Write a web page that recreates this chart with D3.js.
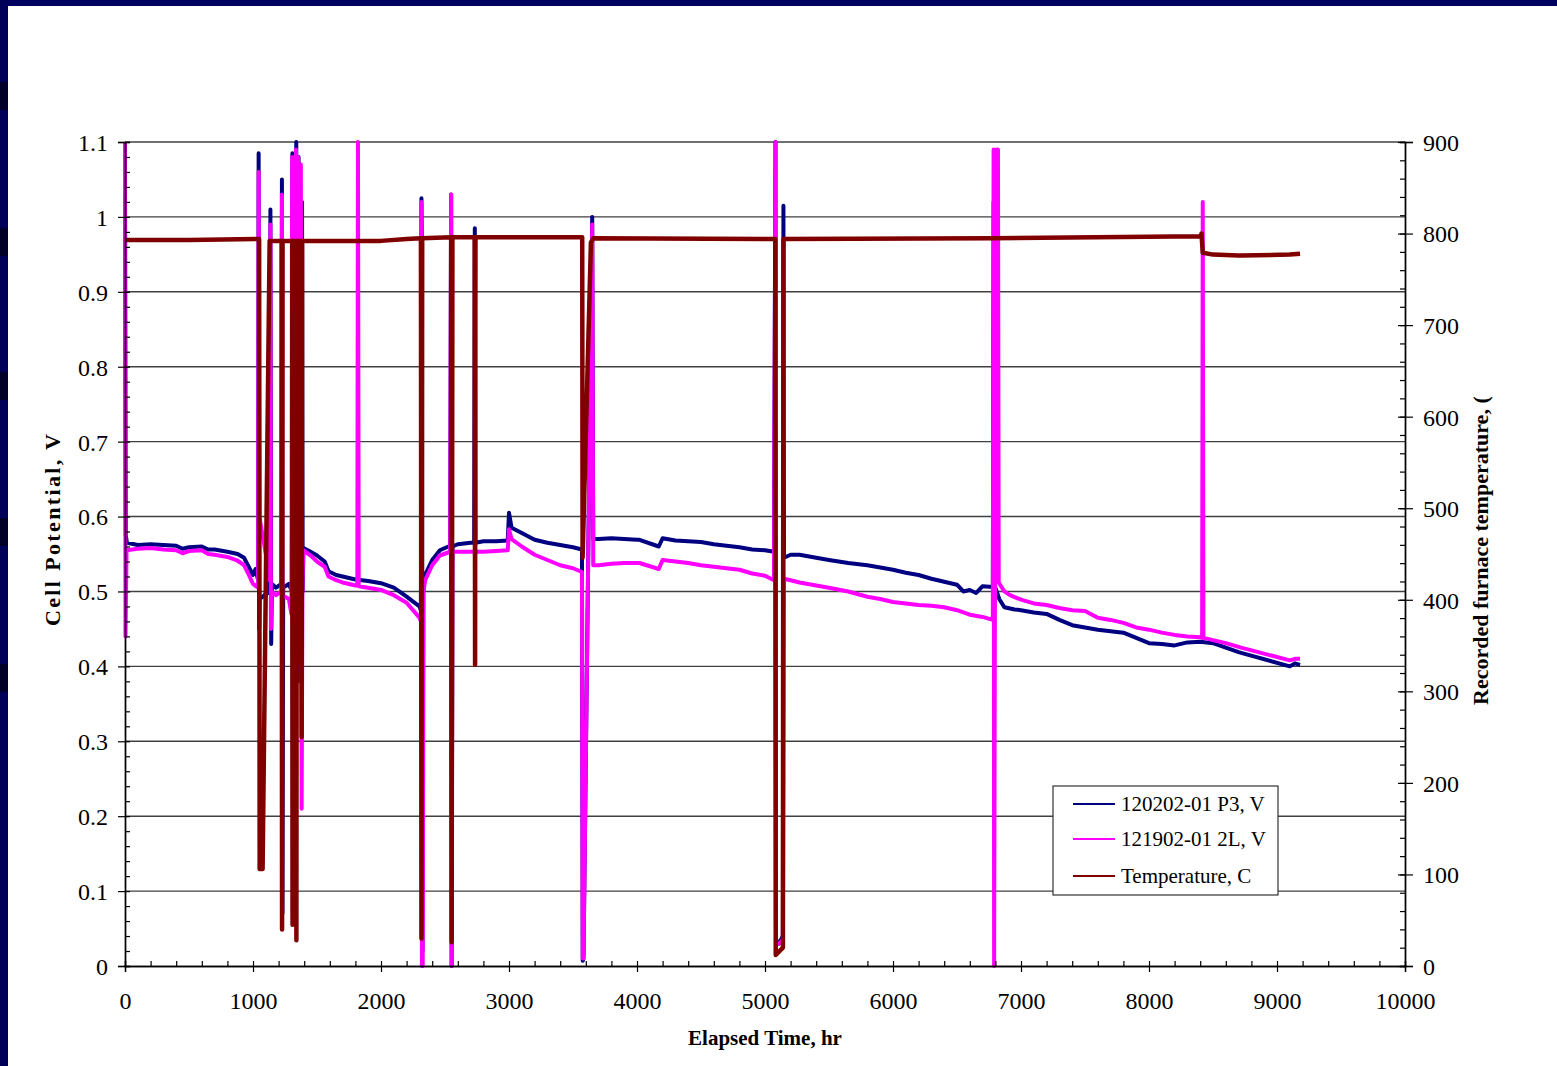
<!DOCTYPE html>
<html>
<head>
<meta charset="utf-8">
<script src="https://cdn.jsdelivr.net/npm/d3@7"></script>
<style>
  body { margin: 0; background: #fff; }
  svg { display: block; }
  text { font-family: "Liberation Serif", "Times New Roman", serif; fill: #000; }
</style>
</head>
<body>
<svg id="chart" width="1557" height="1066"></svg>
<script>
// hours, volts  (120202-01 P3)
const p3 = [
  [0,1.03],[6,0.575],[15,0.565],[100,0.562],[200,0.563],[300,0.562],[400,0.561],[450,0.557],[500,0.559],
  [600,0.56],[650,0.556],[700,0.556],[800,0.553],[880,0.55],[930,0.545],[960,0.535],[1000,0.522],[1020,0.53],[1040,0.515],
  [1044,1.085],[1048,0.45],[1052,0.49],[1130,0.5],[1136,1.01],[1142,0.43],[1148,0.51],[1180,0.505],[1222,0.51],
  [1226,1.05],[1230,0.07],[1236,0.505],[1280,0.51],[1304,0.5],[1308,1.085],[1312,0.065],[1318,0.5],[1334,0.51],
  [1338,1.1],[1342,0.5],[1350,0.49],[1356,1.08],[1360,0.38],[1366,0.5],[1378,0.51],[1383,1.02],[1388,0.5],[1394,0.558],
  [1450,0.553],[1500,0.548],[1560,0.54],[1590,0.527],[1650,0.522],[1700,0.52],[1800,0.516],[1900,0.514],[2000,0.511],
  [2100,0.505],[2200,0.493],[2300,0.48],[2312,0.475],[2316,1.025],[2320,0.95],[2324,0.02],[2330,0.5],[2345,0.522],
  [2400,0.542],[2460,0.555],[2540,0.561],[2548,1.03],[2552,0.0],[2558,0.56],[2600,0.563],[2700,0.565],[2728,0.565],
  [2733,0.985],[2738,0.565],[2800,0.567],[2900,0.567],[2990,0.568],[3000,0.605],[3020,0.585],[3100,0.578],[3200,0.569],
  [3300,0.565],[3400,0.562],[3500,0.559],[3570,0.556],[3576,0.007],[3582,0.01],[3650,1.0],[3658,0.57],[3700,0.57],
  [3800,0.571],[3900,0.57],[4000,0.569],[4020,0.569],[4170,0.56],[4200,0.571],[4300,0.568],[4400,0.567],[4500,0.566],
  [4600,0.563],[4700,0.561],[4800,0.559],[4900,0.556],[5000,0.555],[5070,0.553],[5082,1.1],[5086,0.035],[5110,0.03],
  [5140,0.04],[5144,1.015],[5148,0.545],[5200,0.549],[5270,0.549],[5400,0.545],[5500,0.542],[5650,0.538],[5800,0.535],
  [5900,0.532],[6000,0.529],[6100,0.525],[6200,0.522],[6300,0.517],[6400,0.513],[6500,0.509],[6550,0.5],[6600,0.502],
  [6650,0.498],[6700,0.507],[6780,0.506],[6786,1.02],[6790,0.5],[6800,0.505],[6830,0.49],[6870,0.479],[6950,0.476],
  [7000,0.475],[7100,0.472],[7200,0.47],[7300,0.462],[7400,0.455],[7500,0.452],[7600,0.449],[7700,0.447],[7800,0.445],
  [7900,0.438],[8000,0.431],[8100,0.43],[8200,0.428],[8300,0.432],[8400,0.433],[8500,0.431],[8600,0.425],[8700,0.419],
  [8720,0.418],[9100,0.4],[9140,0.404],[9180,0.402]
];

// hours, volts  (121902-01 2L)
const l2 = [
  [0,1.1],[4,0.44],[12,0.555],[100,0.557],[200,0.558],[300,0.556],[400,0.555],[450,0.551],[500,0.554],[600,0.555],
  [650,0.55],[700,0.549],[800,0.546],[880,0.541],[930,0.535],[960,0.525],[1000,0.51],[1040,0.505],[1044,1.06],
  [1050,0.6],[1120,0.53],[1130,0.515],[1136,0.99],[1140,0.45],[1146,0.5],[1180,0.495],[1222,0.5],[1226,1.03],
  [1230,0.495],[1280,0.49],[1300,0.47],[1306,1.08],[1312,0.47],[1330,0.46],[1336,1.09],[1342,0.47],[1352,1.08],
  [1358,0.48],[1368,0.5],[1374,1.07],[1380,0.21],[1386,0.5],[1392,0.555],[1450,0.548],[1500,0.54],[1560,0.533],
  [1590,0.52],[1650,0.515],[1700,0.512],[1800,0.508],[1815,0.508],[1820,1.1],[1826,0.507],[1900,0.505],[2000,0.502],
  [2100,0.495],[2200,0.485],[2300,0.465],[2312,0.46],[2316,1.02],[2320,0.0],[2326,0.0],[2332,0.5],[2345,0.515],
  [2400,0.535],[2460,0.548],[2540,0.553],[2548,1.03],[2552,0.0],[2558,0.553],[2600,0.553],[2700,0.553],[2800,0.553],
  [2900,0.554],[2990,0.555],[3000,0.583],[3020,0.57],[3100,0.56],[3200,0.549],[3300,0.542],[3400,0.535],[3500,0.531],
  [3570,0.526],[3576,0.01],[3582,0.01],[3650,0.99],[3658,0.535],[3700,0.535],[3800,0.537],[3900,0.538],[4000,0.538],
  [4020,0.538],[4170,0.53],[4200,0.542],[4300,0.54],[4400,0.538],[4500,0.535],[4600,0.533],[4700,0.531],[4800,0.529],
  [4900,0.524],[5000,0.521],[5070,0.515],[5082,1.1],[5086,0.03],[5110,0.03],[5140,0.035],[5148,0.517],[5200,0.515],
  [5270,0.512],[5400,0.508],[5500,0.505],[5650,0.5],[5800,0.493],[5900,0.49],[6000,0.486],[6100,0.484],[6200,0.482],
  [6300,0.481],[6400,0.479],[6500,0.475],[6600,0.469],[6700,0.466],[6780,0.462],[6786,1.09],[6790,0.0],[6796,0.46],
  [6810,1.09],[6820,1.09],[6826,0.512],[6870,0.5],[6914,0.495],[7000,0.489],[7100,0.484],[7200,0.482],[7300,0.478],
  [7400,0.475],[7500,0.474],[7600,0.465],[7700,0.462],[7800,0.458],[7900,0.452],[8000,0.449],[8100,0.445],[8200,0.442],
  [8300,0.44],[8400,0.439],[8415,0.438],[8420,1.02],[8425,0.438],[8500,0.435],[8600,0.431],[8700,0.426],[8720,0.425],
  [9100,0.408],[9140,0.41],[9180,0.41]
];

// hours, deg C
const temp = [
  [0,793],[500,793],[1040,794],[1048,794],[1052,106],[1075,106],[1130,792],[1224,792],[1227,40],[1231,792],
  [1306,792],[1309,45],[1313,792],[1336,792],[1339,28],[1343,792],[1356,792],[1359,330],[1363,792],[1376,792],
  [1380,250],[1384,792],[2000,792],[2200,794],[2312,795],[2316,30],[2322,795],[2548,796],[2552,26],[2558,796],
  [2732,796],[2735,329],[2738,796],[3572,796],[3575,446],[3640,790],[3660,795],[5080,794],[5084,12],[5140,20],
  [5144,794],[6780,795],[8405,797],[8410,800],[8420,779],[8500,777],[8700,776],[8720,776],[9100,777],[9180,778]
];

const leftTicks = [0,0.1,0.2,0.3,0.4,0.5,0.6,0.7,0.8,0.9,1,1.1];
const rightTicks = [0,100,200,300,400,500,600,700,800,900];
const xTicks = [0,1000,2000,3000,4000,5000,6000,7000,8000,9000,10000];
const seriesNames = ["120202-01 P3, V", "121902-01 2L, V", "Temperature, C"];
const seriesColors = ["#000080", "#ff00ff", "#800000"];

const svg = d3.select("#chart");
const L = 125, R = 1405, T = 142, B = 966;

const x = d3.scaleLinear().domain([0, 10000]).range([L, R]);
const yL = d3.scaleLinear().domain([0, 1.1]).range([B, T]);
const yR = d3.scaleLinear().domain([0, 900]).range([B, T]);

// slide frame
svg.append("rect").attr("x", 0).attr("y", 0).attr("width", 1557).attr("height", 6).attr("fill", "#000060");
svg.append("rect").attr("x", 0).attr("y", 0).attr("width", 8).attr("height", 1066).attr("fill", "#000058");
[82, 228, 372, 518, 664].forEach(yy => {
  svg.append("rect").attr("x", 0).attr("y", yy).attr("width", 8).attr("height", 28).attr("fill", "#000028");
});

// gridlines
svg.append("g").selectAll("line").data(leftTicks.filter(d => d > 0)).enter().append("line")
  .attr("x1", L).attr("x2", R)
  .attr("y1", d => yL(d)).attr("y2", d => yL(d))
  .attr("stroke", "#404040").attr("stroke-width", 1.4);

// lines
const line = (ys) => d3.line().x(d => x(d[0])).y(d => ys(d[1]));

svg.append("path").datum(p3).attr("d", line(yL))
  .attr("fill", "none").attr("stroke", seriesColors[0]).attr("stroke-width", 4).attr("stroke-linejoin", "round");
svg.append("path").datum(l2).attr("d", line(yL))
  .attr("fill", "none").attr("stroke", seriesColors[1]).attr("stroke-width", 4).attr("stroke-linejoin", "round");
svg.append("path").datum(temp).attr("d", line(yR))
  .attr("fill", "none").attr("stroke", seriesColors[2]).attr("stroke-width", 4.5).attr("stroke-linejoin", "round");

// axes
const fmt = d => String(+d.toFixed(1));

const gl = svg.append("g").attr("transform", `translate(${L},0)`)
  .call(d3.axisLeft(yL).tickValues(leftTicks).tickFormat(fmt).tickSize(7).tickPadding(10));
const glm = svg.append("g").attr("transform", `translate(${L},0)`)
  .call(d3.axisRight(yL).tickValues(d3.range(0, 1.1001, 0.02)).tickFormat("").tickSize(5));

const gr = svg.append("g").attr("transform", `translate(${R},0)`)
  .call(d3.axisRight(yR).tickValues(rightTicks).tickSize(8).tickPadding(10));
gr.selectAll(".tick line").attr("x1", -7);
const grm = svg.append("g").attr("transform", `translate(${R},0)`)
  .call(d3.axisLeft(yR).tickValues(d3.range(0, 901, 20)).tickFormat("").tickSize(5));

const gb = svg.append("g").attr("transform", `translate(0,${B})`)
  .call(d3.axisBottom(x).tickValues(xTicks).tickFormat(d3.format("d")).tickSize(6).tickPadding(20));
const gbm = svg.append("g").attr("transform", `translate(0,${B})`)
  .call(d3.axisTop(x).tickValues(d3.range(0, 10001, 200)).tickFormat("").tickSize(5));

[gl, glm, gr, grm, gb, gbm].forEach(g => {
  g.selectAll(".domain").attr("stroke", "#000").attr("stroke-width", 1.4);
  g.selectAll(".tick line").attr("stroke", "#000").attr("stroke-width", 1.2);
  g.selectAll("text").attr("font-size", 24).attr("font-family", "Liberation Serif, serif").attr("fill", "#000");
});
gl.selectAll("text").attr("dy", "0.35em");
gr.selectAll("text").attr("dy", "0.35em");

// axis titles
svg.append("text").attr("x", 765).attr("y", 1045).attr("text-anchor", "middle")
  .attr("font-size", 21).attr("font-weight", "bold").text("Elapsed Time, hr");
svg.append("text").attr("transform", "translate(60,530) rotate(-90)").attr("text-anchor", "middle")
  .attr("font-size", 22).attr("font-weight", "bold")
  .attr("textLength", 192).attr("lengthAdjust", "spacing").text("Cell Potential, V");
svg.append("text").attr("transform", "translate(1488,705) rotate(-90)").attr("text-anchor", "start")
  .attr("font-size", 22).attr("font-weight", "bold").text("Recorded furnace temperature, (");

// legend
const lg = svg.append("g");
lg.append("rect").attr("x", 1053).attr("y", 786).attr("width", 225).attr("height", 109)
  .attr("fill", "#fff").attr("stroke", "#333").attr("stroke-width", 1.2);
const rowsY = [804, 839, 876];
seriesNames.forEach((name, i) => {
  lg.append("line").attr("x1", 1073).attr("x2", 1115).attr("y1", rowsY[i]).attr("y2", rowsY[i])
    .attr("stroke", seriesColors[i]).attr("stroke-width", 2);
  lg.append("text").attr("x", 1121).attr("y", rowsY[i]).attr("dy", "0.35em")
    .attr("font-size", 21).text(name);
});
</script>
</body>
</html>
